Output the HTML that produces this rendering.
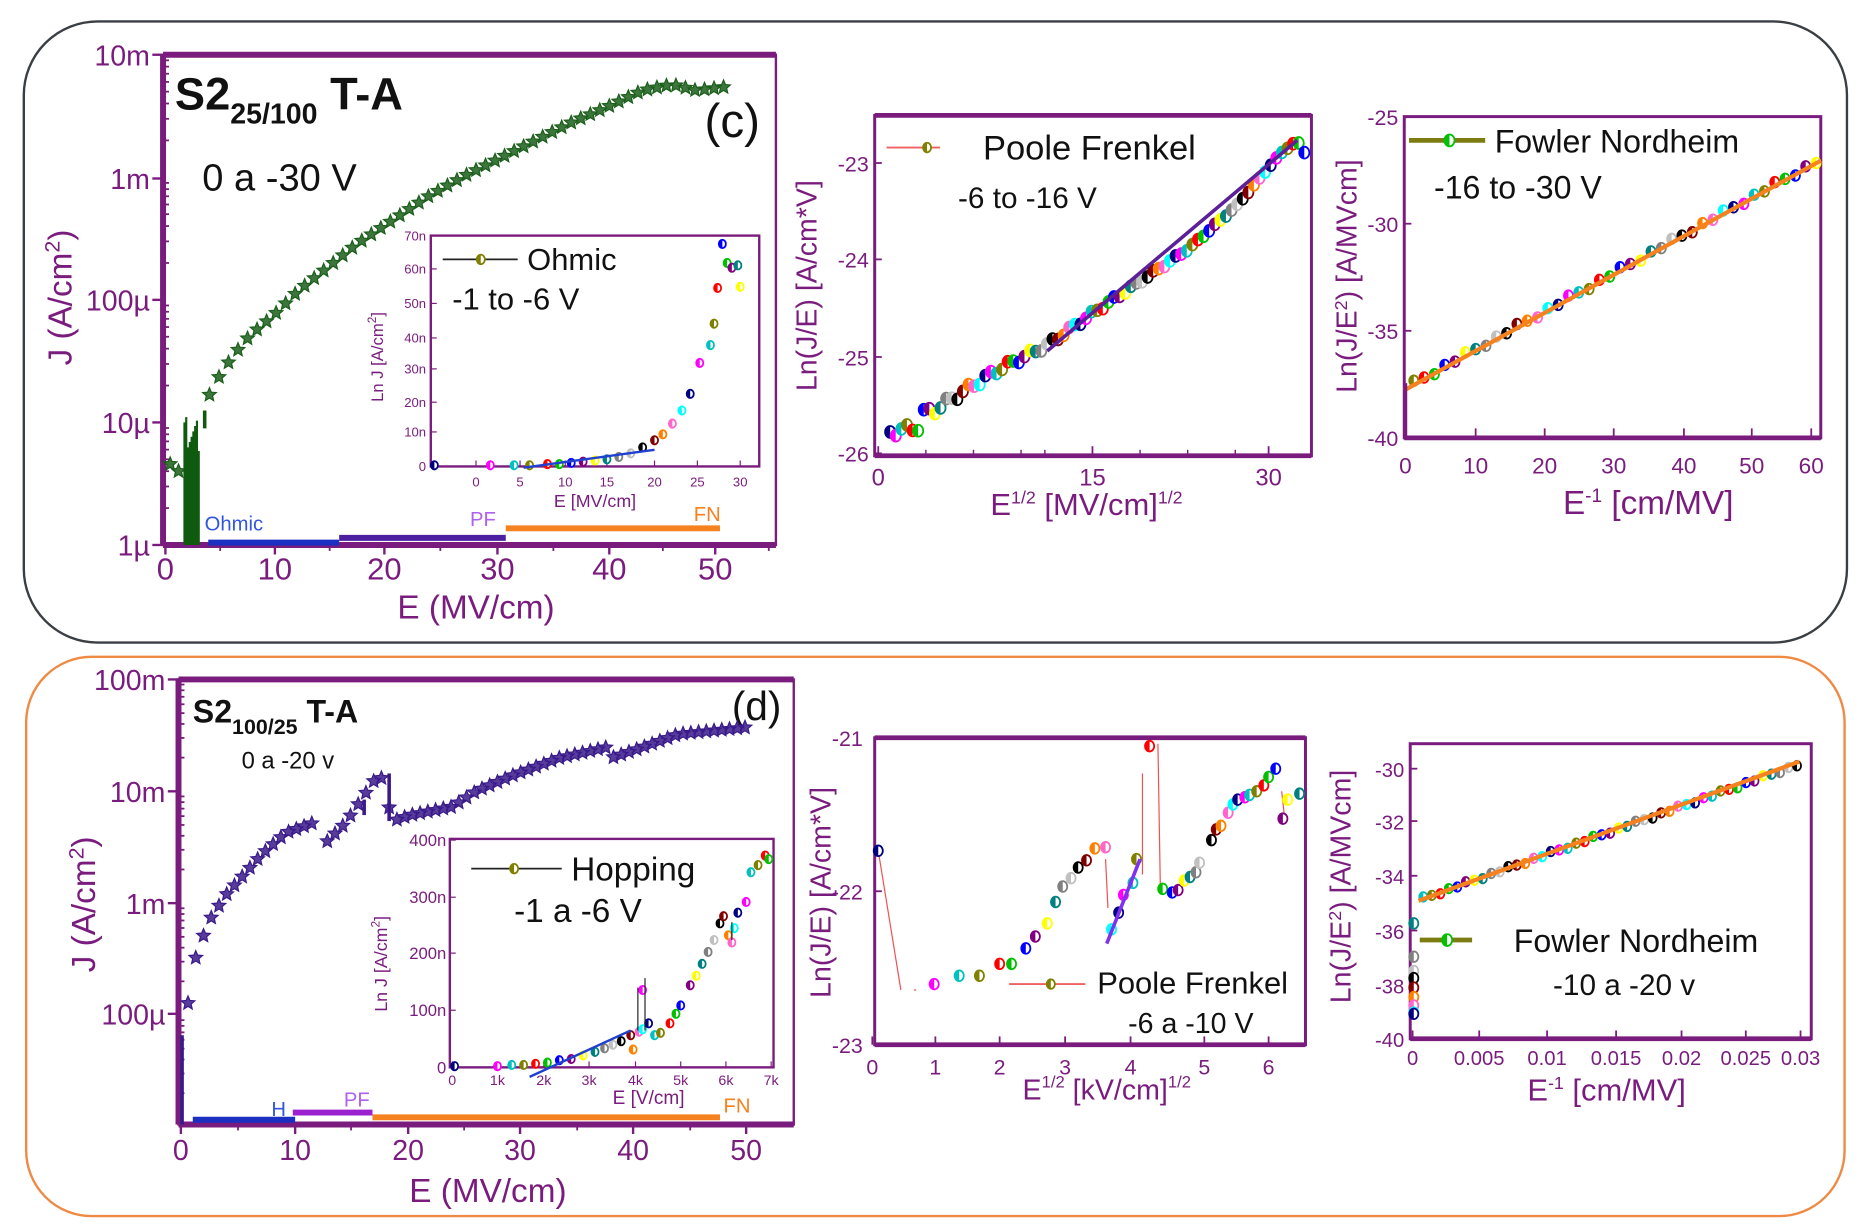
<!DOCTYPE html>
<html><head><meta charset="utf-8"><style>
html,body{margin:0;padding:0;background:#fff;}
svg{display:block;}
text{font-family:"Liberation Sans",Arial,sans-serif;}
</style></head><body>
<svg id="s" width="1866" height="1228" viewBox="0 0 1568 1032" preserveAspectRatio="none" xmlns="http://www.w3.org/2000/svg">
<rect x="0" y="0" width="1568" height="1032" fill="#fff"/>
<rect x="20" y="18" width="1532" height="522" rx="62" fill="none" stroke="#3a3f44" stroke-width="2"/>
<rect x="22" y="552" width="1528" height="470" rx="55" fill="none" stroke="#ee8a44" stroke-width="2"/>
<g id="g"></g>
</svg>
<script>
const P="#7a1c7e",NS="http://www.w3.org/2000/svg",G=document.getElementById('g');
function el(t,a,txt){const e=document.createElementNS(NS,t);for(const k in a)e.setAttribute(k,a[k]);if(txt!==undefined)e.textContent=txt;G.appendChild(e);return e;}
function tx(x,y,s,size,fill,anchor,extra){const a={x:x,y:y,'font-size':size,fill:fill||P,'text-anchor':anchor||'start'};Object.assign(a,extra||{});return el('text',a,s);}
function line(x1,y1,x2,y2,c,w){el('line',{x1,y1,x2,y2,stroke:c,'stroke-width':w});}
function frame(x1,y1,x2,y2,w){el('rect',{x:x1,y:y1,width:x2-x1,height:y2-y1,fill:'none',stroke:P,'stroke-width':w});}
function star(cx,cy,r,c){let p=[];for(let i=0;i<10;i++){const a=-Math.PI/2+i*Math.PI/5,rr=i%2?r*0.45:r;p.push((cx+rr*Math.cos(a)).toFixed(1)+','+(cy+rr*Math.sin(a)).toFixed(1));}el('polygon',{points:p.join(' '),fill:c,stroke:c,'stroke-width':1,'fill-opacity':0.85});}
const COLS=['#000080','#ff00ff','#00c0c0','#808000','#ff0000','#00c000','#0000ff','#800080','#ffff00','#008080','#808080','#c0c0c0','#000000','#800000','#ff8000','#ff66cc','#00ffff'];
function dot(cx,cy,r,i){const c=COLS[i%COLS.length];el('ellipse',{cx,cy,rx:r*0.85,ry:r,fill:'#fff',stroke:c,'stroke-width':1.5});el('path',{d:`M${cx},${cy-r} A${r*0.85},${r} 0 0 0 ${cx},${cy+r} Z`,fill:c});}
function interp(pts,x){for(let i=0;i<pts.length-1;i++){if(x>=pts[i][0]&&x<=pts[i+1][0]){const t=(x-pts[i][0])/(pts[i+1][0]-pts[i][0]);return pts[i][1]+t*(pts[i+1][1]-pts[i][1]);}}return pts[pts.length-1][1];}

/* ===== panel c main ===== */
frame(137,46,652,458,2);
line(137,46,652,46,P,5);line(137,458,652,458,P,5);line(137,46,137,458,P,5);
[46,150,252,355,458].forEach(y=>line(128,y,137,y,P,2));
for(let i=0;i<4;i++){for(let k=2;k<10;k++){const y=458-i*103-Math.log10(k)*103;line(137,y,142,y,P,1.5);}}
[[139,'0'],[231,'10'],[323,'20'],[418,'30'],[512,'40'],[601,'50']].forEach(a=>{line(a[0],458,a[0],466,P,2);tx(a[0],487,a[1],26,P,'middle');});
[185,277,370,465,557,646].forEach(x=>line(x,458,x,463,P,1.5));
[[46,'10m'],[150,'1m'],[252,'100µ'],[355,'10µ'],[458,'1µ']].forEach(a=>tx(126,a[0]+9,a[1],24,P,'end'));
tx(400,520,'E (MV/cm)',28,P,'middle');
el('text',{x:60,y:250,'font-size':28,fill:P,'text-anchor':'middle',transform:'rotate(-90 60 250)'}).innerHTML='J (A/cm<tspan dy="-10" font-size="18">2</tspan><tspan dy="10">)</tspan>';
el('text',{x:147,y:92,'font-size':38,'font-weight':'bold',fill:'#111'}).innerHTML='S2<tspan dy="12" font-size="24">25/100</tspan><tspan dy="-12"> T-A</tspan>';
tx(592,115,'(c)',40,'#111');
tx(170,160,'0 a -30 V',32,'#111');
const cg=[[141,390],[150,396],[170,345],[180,323],[195,300],[210,282],[230,265],[250,245],[275,225],[300,205],[330,185],[360,165],[390,148],[420,133],[450,118],[480,103],[510,90],[540,76],[565,71],[585,76],[610,73]];
for(let x=176;x<=612;x+=8){star(x,interp(cg,x),6,'#1a5e1a');}
star(143,390,6,'#1a5e1a');star(150,396,6,'#1a5e1a');
for(let x=155;x<=168;x+=1.5){const top=350+((x*37)%30);line(x,top,x,458,'#0f5a0f',1.8);}
line(172,345,172,360,'#0f5a0f',3);
line(175,456,285,456,'#1b2fc0',5);line(285,452,425,452,'#4b1fa0',5);line(425,444,605,444,'#f5821f',5);
tx(172,446,'Ohmic',17,'#3355dd');tx(395,442,'PF',17,'#b060f0');tx(583,438,'FN',17,'#f5821f');
/* inset c */
frame(362,198,638,392,2);
[[400,'0'],[437,'5'],[475,'10'],[510,'15'],[550,'20'],[586,'25'],[622,'30']].forEach(a=>{line(a[0],392,a[0],387,P,1);tx(a[0],409,a[1],11,P,'middle');});
[[392,'0'],[363,'10n'],[338,'20n'],[310,'30n'],[284,'40n'],[255,'50n'],[226,'60n'],[198,'70n']].forEach(a=>{line(362,a[0],367,a[0],P,1);tx(358,a[0]+4,a[1],11,P,'end');});
tx(500,426,'E [MV/cm]',15,P,'middle');
el('text',{x:322,y:300,'font-size':14,fill:P,'text-anchor':'middle',transform:'rotate(-90 322 300)'}).innerHTML='Ln J [A/cm<tspan dy="-6" font-size="10">2</tspan><tspan dy="6">]</tspan>';
line(372,218,435,218,'#222',1.5);dot(404,218,4,3);tx(443,227,'Ohmic',26,'#111');tx(380,260,'-1 to -6 V',26,'#111');
const ip=[[365,391],[412,391],[432,391],[445,391],[460,390],[470,390],[480,389],[490,388],[500,387],[510,386],[520,384],[530,381],[540,376],[550,370],[557,365],[565,356],[573,345],[580,331],[588,305],[597,290],[600,272],[603,242],[611,221],[607,205],[615,225],[622,241],[620,223]];
ip.forEach((p,i)=>dot(p[0],p[1],3.5,i));
line(440,393,550,378,'#2040d0',2);
/* ===== panel c middle ===== */
frame(735,97,1102,383,2.5);line(735,97,1102,97,P,4);line(735,383,1102,383,P,4);
[[137,'-23'],[218,'-24'],[300,'-25'],[381,'-26']].forEach(a=>{line(735,a[0],741,a[0],P,1.5);tx(730,a[0]+7,a[1],18,P,'end');});
[[738,'0'],[918,'15'],[1066,'30']].forEach(a=>{line(a[0],383,a[0],375,P,1.5);tx(a[0],408,a[1],20,P,'middle');});
[778,818,858,878,958,998,1038].forEach(x=>line(x,383,x,378,P,1.2));
el('text',{x:913,y:433,'font-size':26,fill:P,'text-anchor':'middle'}).innerHTML='E<tspan dy="-10" font-size="15">1/2</tspan><tspan dy="10"> [MV/cm]</tspan><tspan dy="-10" font-size="15">1/2</tspan>';
el('text',{x:686,y:240,'font-size':24,fill:P,'text-anchor':'middle',transform:'rotate(-90 686 240)'}).textContent='Ln(J/E) [A/cm*V]';
line(745,124,790,124,'#f06060',1.5);dot(779,124,4,3);tx(826,134,'Poole Frenkel',29,'#111');tx(805,175,'-6 to -16 V',25,'#111');
const pc=[[748,368],[770,355],[800,335],[840,310],[880,290],[920,262],[950,242],[1000,208],[1040,172],[1075,130],[1090,118],[1097,130]];
for(let i=0;i<75;i++){const t=i/74;const x=748+t*348;const y=interp(pc,x)+Math.sin(i*1.7)*4*(1-t)+(t<0.12?((i*13)%11)-5:0);dot(x,y,5,i);}
line(880,295,1090,118,'#5b2098',3);
/* ===== panel c right ===== */
frame(1180,98,1530,368,2.5);line(1180,368,1530,368,P,4);
[[98,'-25'],[188,'-30'],[278,'-35'],[368,'-40']].forEach(a=>{line(1180,a[0],1186,a[0],P,1.5);tx(1175,a[0]+7,a[1],18,P,'end');});
[[1181,'0'],[1240,'10'],[1298,'20'],[1356,'30'],[1415,'40'],[1472,'50'],[1522,'60']].forEach(a=>{line(a[0],368,a[0],360,P,1.5);tx(a[0],398,a[1],19,P,'middle');});
el('text',{x:1385,y:432,'font-size':28,fill:P,'text-anchor':'middle'}).innerHTML='E<tspan dy="-10" font-size="16">-1</tspan><tspan dy="10"> [cm/MV]</tspan>';
el('text',{x:1140,y:232,'font-size':24,fill:P,'text-anchor':'middle',transform:'rotate(-90 1140 232)'}).innerHTML='Ln(J/E<tspan dy="-8" font-size="15">2</tspan><tspan dy="8">) [A/MVcm]</tspan>';
line(1184,118,1248,118,'#7c7c10',4);dot(1218,118,5,5);tx(1256,128,'Fowler Nordheim',27,'#111');tx(1205,167,'-16 to -30 V',27,'#111');
for(let i=0;i<40;i++){const t=i/39;dot(1188+t*338,322-t*186+((i*7)%5-2),4.5,i+3);}
line(1180,328,1530,135,'#f5821f',3.5);line(1181,322,1181,368,'#7a1c7e',3);
/* ===== panel d main ===== */
frame(150,571,667,945,2);line(150,571,667,571,P,5);line(150,945,667,945,P,5);line(150,571,150,945,P,5);
[571,665,759,852].forEach(y=>line(141,y,150,y,P,2));
for(let i=0;i<4;i++){for(let k=2;k<10;k++){const y=571+(i+1)*94-Math.log10(k)*94;if(y<945)line(150,y,155,y,P,1.5);}}
[[571,'100m'],[665,'10m'],[759,'1m'],[852,'100µ']].forEach(a=>tx(139,a[0]+9,a[1],24,P,'end'));
[[152,'0'],[248,'10'],[343,'20'],[437,'30'],[532,'40'],[627,'50']].forEach(a=>{line(a[0],945,a[0],953,P,2);tx(a[0],975,a[1],24,P,'middle');});
[200,295,390,485,580].forEach(x=>line(x,945,x,950,P,1.5));
tx(410,1010,'E (MV/cm)',28,P,'middle');
el('text',{x:80,y:760,'font-size':28,fill:P,'text-anchor':'middle',transform:'rotate(-90 80 760)'}).innerHTML='J (A/cm<tspan dy="-10" font-size="18">2</tspan><tspan dy="10">)</tspan>';
el('text',{x:162,y:607,'font-size':27,'font-weight':'bold',fill:'#111'}).innerHTML='S2<tspan dy="10" font-size="18">100/25</tspan><tspan dy="-10">  T-A</tspan>';
tx(615,605,'(d)',34,'#111');tx(203,646,'0 a -20 v',20,'#111');
const dp=[[158,843],[162,812],[175,775],[190,752],[205,735],[220,718],[240,700],[262,692],[270,712],[290,692],[305,670],[315,655],[320,652],[330,690],[345,685],[380,678],[400,665],[430,652],[470,637],[510,628],[505,640],[540,628],[570,617],[630,611]];
for(let x=158;x<=632;x+=6.5){let y=interp(dp,x);if(x>265&&x<272)continue;star(x,y,6,'#3a1a8a');}
line(153,870,153,945,'#3a1a8a',3);line(327,650,327,690,'#3a1a8a',3);line(306,672,306,685,'#3a1a8a',3);
line(162,941,248,941,'#1b2fc0',5);line(246,935,313,935,'#9a20d0',5);line(313,939,605,939,'#f5821f',5);
tx(228,938,'H',17,'#3355dd');tx(289,930,'PF',17,'#b060f0');tx(608,935,'FN',17,'#f5821f');
/* inset d */
frame(378,705,650,897,2);
[[380,'0'],[418,'1k'],[457,'2k'],[495,'3k'],[534,'4k'],[572,'5k'],[610,'6k'],[648,'7k']].forEach(a=>{line(a[0],897,a[0],892,P,1);tx(a[0],912,a[1],12,P,'middle');});
[[897,'0'],[849,'100n'],[801,'200n'],[754,'300n'],[706,'400n']].forEach(a=>{line(378,a[0],383,a[0],P,1);tx(375,a[0]+5,a[1],14,P,'end');});
tx(545,928,'E [V/cm]',16,P,'middle');
el('text',{x:325,y:810,'font-size':15,fill:P,'text-anchor':'middle',transform:'rotate(-90 325 810)'}).innerHTML='Ln J [A/cm<tspan dy="-6" font-size="10">2</tspan><tspan dy="6">]</tspan>';
line(396,730,472,730,'#222',1.5);dot(432,730,4,3);tx(480,740,'Hopping',28,'#111');tx(432,775,'-1 a -6 V',28,'#111');
const hp=[[382,896],[418,896],[430,895],[440,895],[450,894],[460,893],[470,891],[480,890],[490,887],[500,884],[508,881],[515,878],[522,875],[530,870],[532,882],[537,867],[540,865],[545,860],[540,832],[550,870],[555,868],[563,860],[568,852],[572,845],[580,828],[585,820],[590,810],[595,800],[600,790],[605,776],[608,770],[612,786],[615,792],[617,780],[620,767],[627,758],[631,733],[637,727],[643,719],[646,722]];
hp.forEach((p,i)=>dot(p[0],p[1],3.5,i));
line(445,905,530,866,'#2040d0',2);line(536,830,536,866,'#222',1);line(542,822,542,866,'#222',1);line(615,775,615,790,'#222',1);
/* ===== panel d middle ===== */
frame(735,620,1097,878,2.5);line(735,620,1097,620,P,4);line(735,878,1097,878,P,4);
[[620,'-21'],[749,'-22'],[878,'-23']].forEach(a=>{line(735,a[0],741,a[0],P,1.5);tx(725,a[0]+7,a[1],18,P,'end');});
[[733,'0'],[786,'1'],[840,'2'],[895,'3'],[950,'4'],[1012,'5'],[1066,'6']].forEach(a=>{line(a[0],878,a[0],871,P,1.5);tx(a[0],903,a[1],18,P,'middle');});
el('text',{x:930,y:924,'font-size':24,fill:P,'text-anchor':'middle'}).innerHTML='E<tspan dy="-10" font-size="14">1/2</tspan><tspan dy="10"> [kV/cm]</tspan><tspan dy="-10" font-size="14">1/2</tspan>';
el('text',{x:698,y:750,'font-size':24,fill:P,'text-anchor':'middle',transform:'rotate(-90 698 750)'}).textContent='Ln(J/E) [A/cm*V]';
line(848,827,912,827,'#f06060',1.5);dot(883,827,4,3);tx(922,835,'Poole Frenkel',26,'#111');tx(948,868,'-6 a -10 V',24,'#111');
line(738,715,757,832,'#f05050',1);line(768,832,770,832,'#f05050',1);line(929,722,931,763,'#f05050',1);line(960,650,960,735,'#f05050',1);line(973,625,975,744,'#f05050',1);line(1077,665,1079,683,'#f05050',1);
const mp=[[738,715],[785,827],[806,820],[823,820],[840,810],[850,810],[862,797],[870,787],[880,776],[887,758],[893,745],[900,738],[906,729],[913,723],[920,713],[929,712],[934,781],[940,767],[944,752],[952,742],[955,722],[966,627],[977,747],[985,750],[990,748],[995,740],[1000,737],[1005,733],[1008,725],[1018,706],[1022,697],[1026,694],[1032,683],[1036,676],[1040,672],[1046,670],[1050,668],[1056,665],[1062,660],[1066,653],[1072,646],[1078,688],[1082,672],[1092,667]];
mp.forEach((p,i)=>dot(p[0],p[1],4.5,i));
line(930,793,958,722,'#8030f0',3);
/* ===== panel d right ===== */
frame(1185,625,1522,873,2.5);line(1185,873,1522,873,P,4);
[[646,'-30'],[690,'-32'],[736,'-34'],[782,'-36'],[828,'-38'],[873,'-40']].forEach(a=>{line(1185,a[0],1191,a[0],P,1.5);tx(1180,a[0]+7,a[1],17,P,'end');});
[[1187,'0'],[1243,'0.005'],[1300,'0.01'],[1358,'0.015'],[1413,'0.02'],[1467,'0.025'],[1513,'0.03']].forEach(a=>{line(a[0],873,a[0],866,P,1.5);tx(a[0],895,a[1],17,P,'middle');});
el('text',{x:1350,y:925,'font-size':26,fill:P,'text-anchor':'middle'}).innerHTML='E<tspan dy="-10" font-size="15">-1</tspan><tspan dy="10"> [cm/MV]</tspan>';
el('text',{x:1135,y:745,'font-size':24,fill:P,'text-anchor':'middle',transform:'rotate(-90 1135 745)'}).innerHTML='Ln(J/E<tspan dy="-8" font-size="15">2</tspan><tspan dy="8">) [A/MVcm]</tspan>';
line(1193,790,1237,790,'#7c7c10',4);dot(1216,790,5,5);tx(1272,800,'Fowler Nordheim',27,'#111');tx(1305,836,'-10 a -20 v',25,'#111');
for(let i=0;i<45;i++){const t=i/44;dot(1196+t*314,755-t*112+((i*7)%5-2)*0.6,4,i+2);}
[[1188,776],[1188,804],[1188,816],[1188,822],[1188,830],[1188,838],[1188,845],[1188,851],[1188,852]].forEach((p,i)=>dot(p[0],p[1],4.5,i+9));
line(1192,757,1512,640,'#f5821f',3.5);
</script>
</body></html>
